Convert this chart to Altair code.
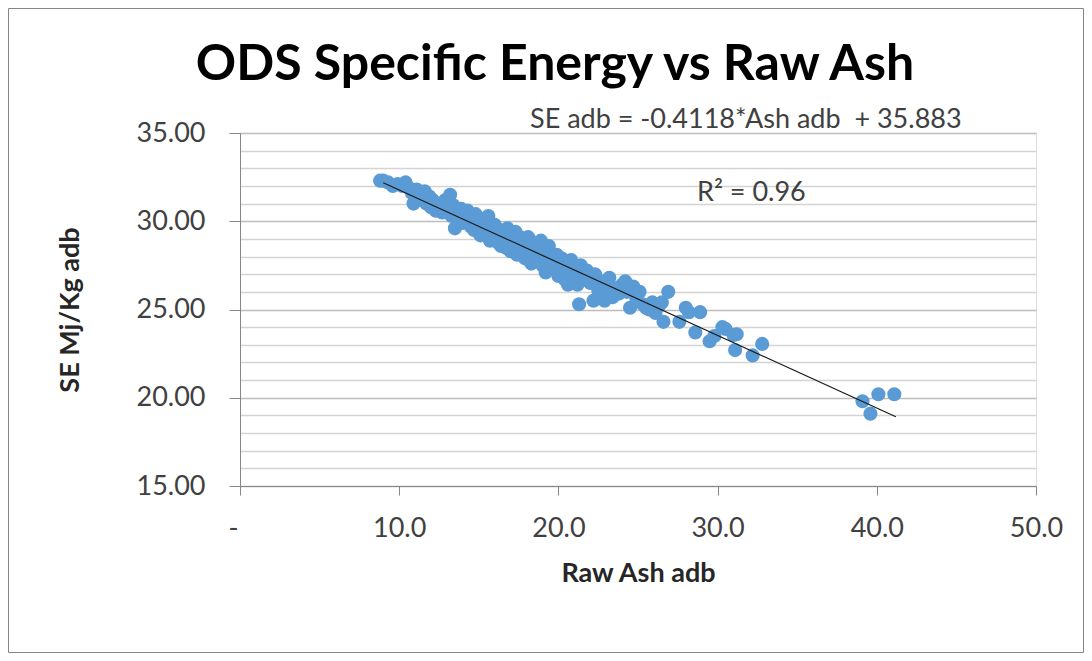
import altair as alt
import pandas as pd

ash = [8.8, 9.0, 9.3, 9.6, 9.9, 10.2, 10.4, 10.6, 10.8, 10.9, 11.1, 11.3, 11.4, 11.6, 11.7, 11.9, 12.0, 12.1,
       12.3, 12.4, 12.6, 12.7, 12.9, 13.0, 13.2, 13.3, 13.4, 13.5, 13.6, 13.8, 13.9, 14.0,
       14.1, 14.2, 14.3, 14.5, 14.6, 14.7, 14.8, 14.9, 15.0, 15.1, 15.2, 15.3, 15.5, 15.6, 15.7, 15.8, 15.9, 16.0,
       16.1, 16.2, 16.3, 16.4, 16.5, 16.6, 16.7, 16.8, 16.9, 17.0, 17.1, 17.2, 17.3, 17.4, 17.5, 17.6, 17.7, 17.8, 17.9, 18.0,
       18.1, 18.2, 18.3, 18.4, 18.5, 18.6, 18.7, 18.8, 18.9, 19.0, 19.1, 19.2, 19.3, 19.4, 19.5, 19.6, 19.8, 19.9, 20.0,
       20.1, 20.2, 20.3, 20.4, 20.5, 20.6, 20.7, 20.8, 20.9, 21.0, 21.1, 21.2, 21.3, 21.4, 21.6, 21.8, 22.0,
       22.2, 22.3, 22.5, 22.6, 22.7, 22.9, 23.0, 23.1, 23.2, 23.4, 23.6, 23.8, 24.0, 24.2, 24.3, 24.5, 24.7,
       24.9, 25.1, 25.3, 25.5, 25.7, 25.9, 26.1, 26.3, 26.6, 26.9, 26.5,
       27.6, 28.0, 28.2, 28.6, 28.9, 29.5, 29.8, 30.3, 30.5, 31.0, 31.1, 31.2, 32.2, 32.8,
       39.1, 39.6, 40.1, 41.1]
se = [32.3, 32.3, 32.2, 32.0, 32.1, 32.0, 32.2, 31.9, 31.6, 31.0, 31.8, 31.5, 31.2, 31.7, 31.0, 31.4, 30.8, 31.2,
      30.6, 31.0, 30.9, 30.5, 31.2, 30.7, 31.5, 30.3, 30.9, 29.6, 30.5, 30.2, 30.7, 29.9,
      30.4, 30.0, 30.6, 29.7, 30.2, 29.5, 30.4, 30.0, 29.6, 29.2, 30.1, 29.4, 29.8, 30.3, 28.9, 29.5, 29.0, 29.8,
      29.2, 28.8, 29.5, 28.6, 29.3, 29.0, 28.5, 29.6, 28.9, 28.3, 29.2, 28.7, 29.4, 28.1, 28.8, 29.1, 28.4, 28.9, 27.9, 28.6,
      29.1, 28.2, 27.6, 28.8, 28.4, 27.9, 28.6, 28.0, 28.9, 27.5, 28.3, 27.1, 28.0, 28.6, 27.6, 27.8, 27.3, 28.1, 26.9,
      27.5, 27.9, 27.2, 26.7, 27.6, 26.4, 27.0, 27.8, 26.6, 27.3, 26.9, 26.4, 25.3, 27.5, 26.8, 27.2, 26.5,
      25.5, 27.0, 26.1, 25.8, 26.6, 25.5, 26.3, 25.9, 26.8, 25.7, 26.2, 25.9, 26.4, 26.6, 26.0, 25.1, 26.3,
      25.6, 26.0, 25.3, 25.1, 25.0, 25.4, 24.8, 25.2, 24.3, 26.0, 25.4,
      24.3, 25.1, 24.85, 23.7, 24.85, 23.2, 23.5, 24.0, 23.9, 23.55, 22.7, 23.6, 22.4, 23.05,
      19.8, 19.1, 20.2, 20.2]

trend_x = [9.0, 41.2]
trend_y = [32.18, 18.92]

x_ticks = [0, 10, 20, 30, 40, 50]
y_grid = list(range(15, 36))

title_text = "ODS Specific Energy vs Raw Ash"
eq_text = "SE adb = -0.4118*Ash adb\u00a0 + 35.883"
r2_text = "R² = 0.96"

FONT = "Lato"
W, H = 796, 353

pts = pd.DataFrame({"ash": ash, "se": se})
trend = pd.DataFrame({"ash": trend_x, "se": trend_y})
one = pd.DataFrame({"k": [0]})

xscale = alt.Scale(domain=[0, 50], nice=False, zero=False)
yscale = alt.Scale(domain=[15, 35], nice=False, zero=False)

xaxis = alt.Axis(
    values=x_ticks, tickCount=10, grid=False, title="Raw Ash adb",
    labelExpr="datum.value == 0 ? '-' : format(datum.value, '.1f')",
    labelOffset={"expr": "datum.value == 0 ? -7 : 0"},
    labelFont=FONT, labelFontSize=27, labelColor="#404040", labelPadding=20,
    labelOverlap=False, labelFlush=False,
    tickSize=9, tickColor="#868686", domainColor="#868686",
    titleFont=FONT, titleFontSize=27, titleFontWeight="bold", titleColor="#262626",
    titleX=W / 2, titleY=87, titleBaseline="middle",
)
yaxis = alt.Axis(
    values=y_grid, tickCount=40, grid=True, title="SE Mj/Kg adb",
    gridColor={"expr": "datum.value % 5 == 0 ? '#bdbdbd' : '#d4d4d4'"},
    gridWidth=1.5,
    labelExpr="datum.value % 5 == 0 ? format(datum.value, '.2f') : ''",
    labelFont=FONT, labelFontSize=27, labelColor="#404040", labelPadding=24,
    labelOverlap=False, labelFlush=False,
    tickSize=11, tickColor="#868686",
    tickOpacity={"expr": "datum.value % 5 == 0 ? 1 : 0"},
    domainColor="#868686",
    titleFont=FONT, titleFontSize=27, titleFontWeight="bold", titleColor="#262626",
    titleX=-170, titleY=H / 2, titleAngle=270, titleBaseline="middle",
)

points = alt.Chart(pts).mark_circle(size=200, color="#5B9BD5", opacity=1).encode(
    x=alt.X("ash:Q", scale=xscale, axis=xaxis),
    y=alt.Y("se:Q", scale=yscale, axis=yaxis),
)

line = alt.Chart(trend).mark_line(color="#1a1a1a", strokeWidth=1.2).encode(
    x=alt.X("ash:Q", scale=xscale),
    y=alt.Y("se:Q", scale=yscale),
)

title = alt.Chart(one).mark_text(
    text=title_text, font=FONT, fontSize=50, fontWeight="bold", color="#000000",
    align="center", baseline="middle",
).encode(x=alt.value(315), y=alt.value(-68))

eq = alt.Chart(one).mark_text(
    text=eq_text, font=FONT, fontSize=27, color="#404040", align="left", baseline="middle",
).encode(x=alt.value(290), y=alt.value(-13))

r2 = alt.Chart(one).mark_text(
    text=r2_text, font=FONT, fontSize=27, color="#404040", align="left", baseline="middle",
).encode(x=alt.value(457), y=alt.value(60))

border = alt.Chart(one).mark_rect(fill=None, stroke="#868686", strokeWidth=1).encode(
    x=alt.value(-231.5), x2=alt.value(843.5), y=alt.value(-124.5), y2=alt.value(519.5)
)

chart = alt.layer(points, line, title, eq, r2, border).properties(
    width=W, height=H,
    autosize=alt.AutoSizeParams(type="none"),
    padding={"left": 232, "top": 125, "right": 48, "bottom": 167},
).configure_view(stroke=None).configure(background="white")

chart.save("out.html", embed_options={"renderer": "svg", "actions": False})
